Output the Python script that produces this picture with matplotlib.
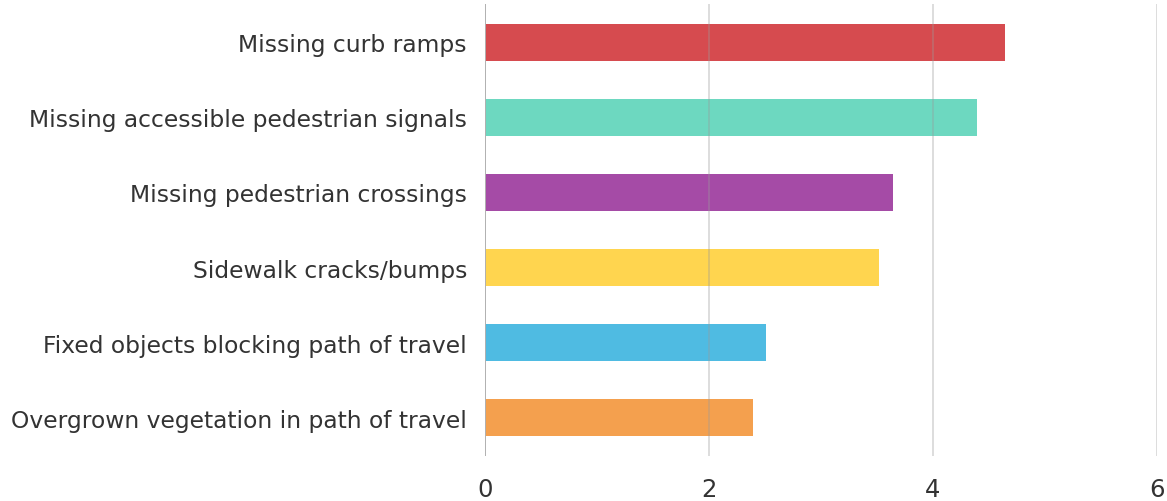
import matplotlib
matplotlib.use("Agg")
import matplotlib.pyplot as plt

categories = [
    "Missing curb ramps",
    "Missing accessible pedestrian signals",
    "Missing pedestrian crossings",
    "Sidewalk cracks/bumps",
    "Fixed objects blocking path of travel",
    "Overgrown vegetation in path of travel",
]
values = [4.64, 4.39, 3.64, 3.52, 2.51, 2.39]
colors = ["#d64b4f", "#6dd8c0", "#a54ba6", "#ffd54f", "#4fbbe2", "#f4a04e"]
xticks = [0, 2, 4, 6]

plt.rcParams['font.family'] = ['DejaVu Sans']

fig = plt.figure(figsize=(11.67, 5.02), dpi=100)
W, H = 1167, 502
left, right, top, bottom = 485, 1157, 5, 457
ax = fig.add_axes([left / W, 1 - bottom / H, (right - left) / W, (bottom - top) / H])

ypos = list(range(len(categories)))
ax.barh(ypos, values, height=0.49, color=colors, zorder=1)
ax.set_ylim(len(categories) - 0.5 + 0.013, -0.513)
ax.set_xlim(0, 6)
ax.set_xticks(xticks)
ax.set_xticklabels([str(t) for t in xticks])
ax.set_yticks(ypos)
ax.set_yticklabels(categories)

for x in xticks[1:]:
    ax.axvline(x, color="#9a9a9a", alpha=0.4, lw=1.2, zorder=3)
ax.axvline(0, color="#b0b0b0", lw=1.4, zorder=3)

for s in ax.spines.values():
    s.set_visible(False)
ax.tick_params(axis='both', length=0)
ax.tick_params(axis='y', pad=13, labelsize=16.8, labelcolor="#333333")
ax.tick_params(axis='x', pad=15, labelsize=17.5, labelcolor="#333333")

fig.savefig("out.png", dpi=100, facecolor="white")
